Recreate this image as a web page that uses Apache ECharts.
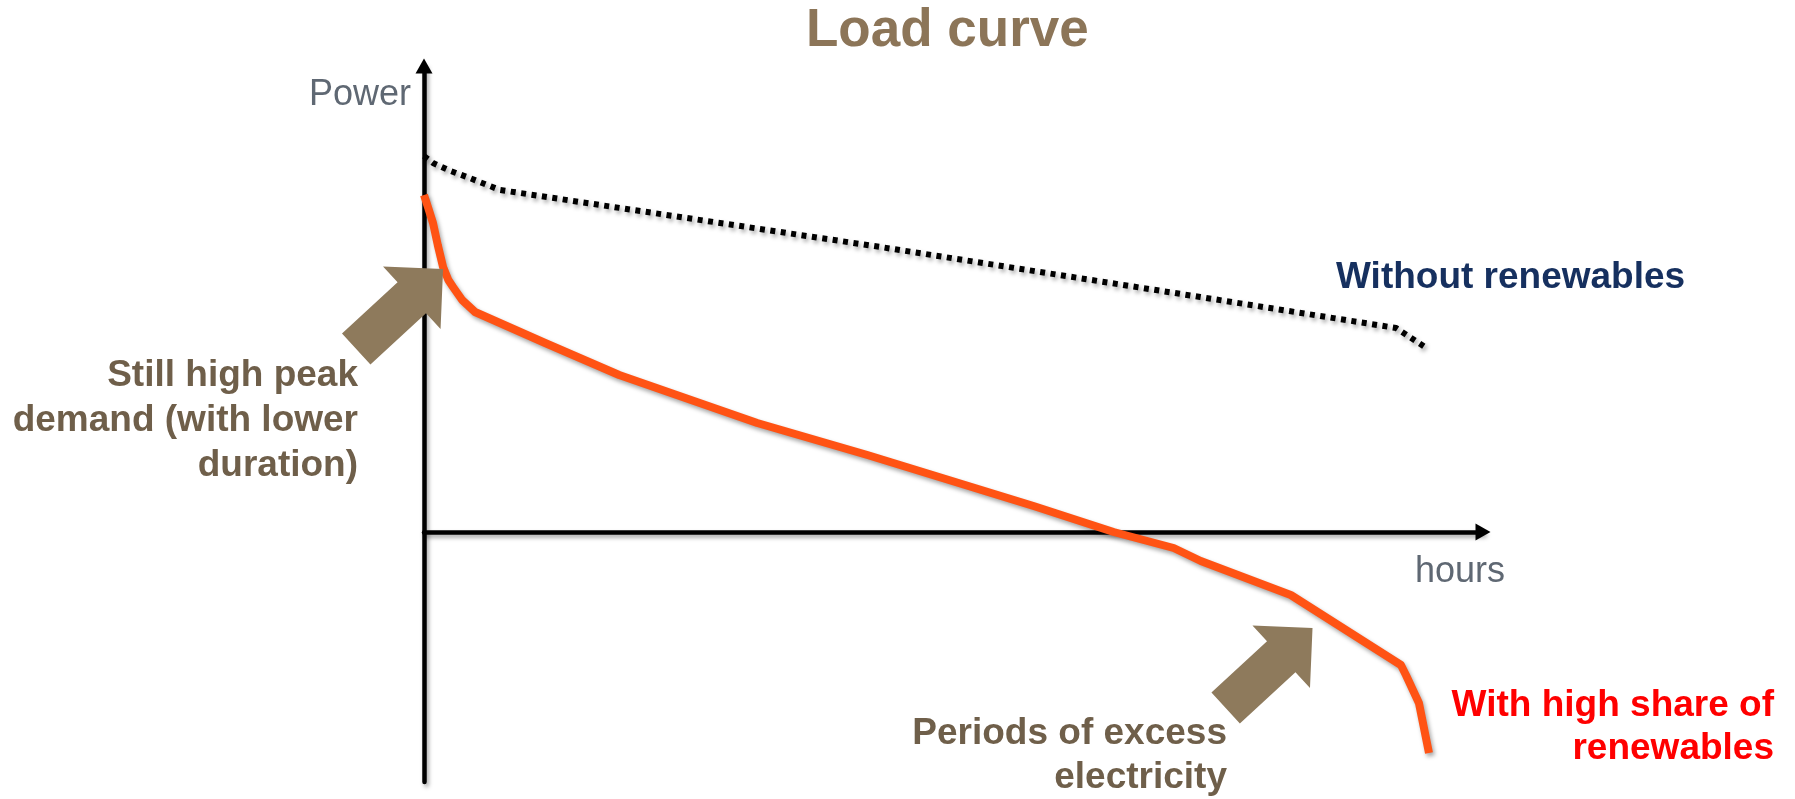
<!DOCTYPE html>
<html>
<head>
<meta charset="utf-8">
<title>Load curve</title>
<script src="https://cdn.jsdelivr.net/npm/echarts@6/dist/echarts.min.js"></script>
<style>
  html, body { margin: 0; padding: 0; background: #fff; }
  #chart { width: 1795px; height: 799px; }
</style>
</head>
<body>
<div id="chart"></div>
<script>
// x = hours (0..100), y = power (arbitrary units, 0 sits on the hours axis)
const withoutHours = [0, 0.85, 2.4, 4.06, 7.18, 43.1, 73.3, 91.8, 94.8]
const withoutPower = [150.4, 147.6, 144.6, 142, 136.8, 114, 94, 81.6, 73.2]

const withHours = [0, 0.4, 0.85, 1.3, 1.8, 2.3, 2.74, 3.6, 4.82, 11.44, 18.43, 31.47, 41.87, 57.56, 65.12, 70.79, 73.35, 81.85, 92.25, 92.72, 93.95, 94.9]
const withPower = [134.8, 129.6, 123.6, 114.8, 106, 100.8, 98, 92.8, 88, 75.6, 62.8, 43.6, 30.8, 10.4, 0, -6.4, -11.6, -25.2, -53.2, -57.2, -68.4, -88.4]

// centre of each annotation arrow, in [hours, power]
const arrowAnchors = [[-2.3, 89.2], [79.8, -54.4]]

const FONT = '"Liberation Sans", Arial, Helvetica, sans-serif'
const shadow = { shadowColor: 'rgba(0,0,0,0.35)', shadowBlur: 4, shadowOffsetX: 2, shadowOffsetY: 3 }

const pairs = (xs, ys) => xs.map((x, i) => [x, ys[i]])

const text = (str, x, y, align, size, weight, color) => ({
  type: 'text',
  x: x,
  y: y,
  z: 10,
  style: {
    text: str,
    textAlign: align,
    textVerticalAlign: 'middle',
    font: `${weight} ${size}px ${FONT}`,
    fill: color
  }
})

const labels = [
  text('Load curve', 806, 31.5, 'left', 53, 'bold', '#8c7558'),
  text('Power', 411, 95, 'right', 36, 'normal', '#5f6873'),
  text('hours', 1415, 572, 'left', 36, 'normal', '#5f6873'),
  text('Without renewables', 1336, 277.5, 'left', 37, 'bold', '#16305f'),
  text('Still high peak', 358, 375.5, 'right', 37, 'bold', '#6f5f4a'),
  text('demand (with lower', 358, 420.5, 'right', 37, 'bold', '#6f5f4a'),
  text('duration)', 358, 465.5, 'right', 37, 'bold', '#6f5f4a'),
  text('Periods of excess', 1227, 733.5, 'right', 37, 'bold', '#6f5f4a'),
  text('electricity', 1227, 777.5, 'right', 37, 'bold', '#6f5f4a'),
  text('With high share of', 1774, 705.5, 'right', 37, 'bold', '#ff0000'),
  text('renewables', 1774, 748.5, 'right', 37, 'bold', '#ff0000')
]

const chart = echarts.init(document.getElementById('chart'))

const axisStyle = {
  show: true,
  symbol: ['none', 'triangle'],
  symbolSize: [17, 15],
  lineStyle: { color: '#000', width: 4.5, ...shadow }
}

const option = {
  animation: false,
  backgroundColor: '#fff',
  grid: { left: 424, right: 312, top: 66, bottom: 17 },
  xAxis: {
    type: 'value',
    min: 0,
    max: 100,
    axisLine: axisStyle,
    axisTick: { show: false },
    axisLabel: { show: false },
    splitLine: { show: false }
  },
  yAxis: {
    type: 'value',
    min: -100,
    max: 186.4,
    axisLine: axisStyle,
    axisTick: { show: false },
    axisLabel: { show: false },
    splitLine: { show: false }
  },
  series: [
    {
      name: 'Without renewables',
      type: 'line',
      data: pairs(withoutHours, withoutPower),
      showSymbol: false,
      clip: false,
      lineStyle: { color: '#000', width: 6, type: [5, 5.5], cap: 'butt', ...shadow }
    },
    {
      name: 'With high share of renewables',
      type: 'line',
      data: pairs(withHours, withPower),
      showSymbol: false,
      clip: false,
      lineStyle: { color: '#ff5314', width: 8, join: 'round', ...shadow }
    }
  ],
  graphic: labels
}

chart.setOption(option)

// block arrow pointing right, centred on 0,0
const arrowShape = [[-59, -21], [16.5, -21], [16.5, -42.5], [59, 0], [16.5, 42.5], [16.5, 21], [-59, 21]]

const arrows = arrowAnchors.map(a => {
  const p = chart.convertToPixel({ gridIndex: 0 }, a)
  return {
    type: 'polygon',
    x: p[0],
    y: p[1],
    rotation: 42.6 * Math.PI / 180,
    z: 5,
    shape: { points: arrowShape },
    style: { fill: '#8e7a5c' }
  }
})

chart.setOption({ graphic: labels.concat(arrows) })
</script>
</body>
</html>
